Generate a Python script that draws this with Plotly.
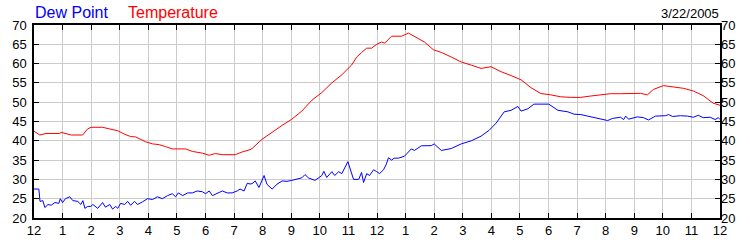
import plotly.graph_objects as go

# Hours since midnight (0..24) and readings
temp_hours = [0, 0.2, 0.42, 0.9, 0.95, 1.1, 1.3, 1.7, 1.77, 1.88, 2.0, 2.4, 2.63, 2.93, 3.17, 3.38,
              3.56, 3.9, 4.15, 4.38, 4.6, 4.84, 5.3, 5.54, 5.89, 6.13, 6.34, 6.6, 7.04, 7.28, 7.56,
              7.63, 7.98, 8.33, 8.68, 9.02, 9.37, 9.72, 10.07, 10.42, 10.77, 11.11, 11.29, 11.46,
              11.64, 11.81, 11.99, 12.16, 12.27, 12.51, 12.86, 13.1, 13.2, 13.45, 13.66, 13.97,
              14.25, 14.6, 14.95, 15.3, 15.64, 15.99, 16.34, 16.69, 17.04, 17.39, 17.73, 18.08,
              18.43, 18.78, 19.13, 19.48, 19.83, 20.17, 20.52, 20.87, 21.22, 21.46, 21.67, 22.02,
              22.37, 22.72, 23.07, 23.41, 23.76, 24]
temp_values = [42.5, 41.5, 41.9, 41.9, 42.2, 41.9, 41.5, 41.5, 42.1, 43.1, 43.5, 43.5, 43.1, 42.6,
               41.7, 41.1, 41.0, 39.75, 39.2, 39.0, 38.5, 37.9, 37.9, 37.25, 36.8, 36.25, 36.7,
               36.4, 36.4, 37.1, 37.7, 38.0, 40.4, 42.3, 44.0, 45.6, 47.7, 50.5, 52.5, 55.0, 57.1,
               59.6, 61.7, 62.9, 64.0, 64.0, 65.0, 65.6, 65.3, 67.1, 67.1, 67.9, 67.5, 66.4, 65.6,
               63.6, 62.9, 61.7, 60.4, 59.6, 58.75, 59.2, 57.9, 56.9, 55.8, 53.75, 52.25, 51.9,
               51.4, 51.25, 51.25, 51.6, 51.9, 52.2, 52.2, 52.3, 52.3, 51.9, 53.3, 54.3, 54.0,
               53.6, 52.9, 51.7, 49.75, 49.2]

dew_hours = [0, 0.17, 0.21, 0.31, 0.38, 0.49, 0.6, 0.73, 0.87, 0.92, 1.0, 1.1, 1.25, 1.36, 1.53,
             1.64, 1.71, 1.78, 1.88, 1.99, 2.06, 2.23, 2.4, 2.5, 2.65, 2.75, 2.86, 2.93, 3.03, 3.17,
             3.28, 3.38, 3.52, 3.62, 3.8, 3.97, 4.15, 4.32, 4.49, 4.67, 4.84, 4.95, 5.05, 5.2, 5.37,
             5.54, 5.71, 5.89, 6.0, 6.13, 6.24, 6.41, 6.59, 6.76, 6.93, 7.11, 7.21, 7.35, 7.46,
             7.56, 7.63, 7.74, 7.87, 8.05, 8.15, 8.33, 8.5, 8.68, 8.85, 9.02, 9.2, 9.37, 9.48, 9.6,
             9.83, 10.07, 10.14, 10.24, 10.42, 10.52, 10.66, 10.77, 10.98, 11.05, 11.18, 11.36,
             11.46, 11.53, 11.64, 11.74, 11.88, 11.99, 12.09, 12.23, 12.33, 12.4, 12.51, 12.6,
             12.75, 12.96, 13.2, 13.31, 13.55, 13.9, 14.0, 14.25, 14.6, 14.95, 15.3, 15.64, 15.92,
             16.17, 16.34, 16.45, 16.69, 16.93, 17.04, 17.28, 17.49, 17.84, 18.01, 18.33, 18.68,
             18.89, 19.13, 19.37, 19.72, 20.07, 20.24, 20.52, 20.63, 20.7, 20.8, 21.11, 21.32,
             21.5, 21.74, 22.09, 22.2, 22.34, 22.62, 22.86, 23.07, 23.24, 23.41, 23.66, 23.83,
             23.94, 24]
dew_values = [27.5, 27.5, 24.3, 24.5, 22.7, 23.5, 23.3, 24.0, 23.8, 25.0, 24.0, 25.0, 25.5, 24.5,
              24.3, 23.5, 24.5, 22.5, 23.0, 23.0, 23.5, 22.5, 24.0, 22.8, 23.5, 22.3, 23.0, 22.5,
              23.8, 23.5, 24.3, 23.3, 24.3, 23.5, 24.2, 25.0, 24.8, 25.5, 25.0, 25.8, 26.3, 25.5,
              26.5, 25.8, 26.5, 26.5, 27.0, 26.8, 26.3, 27.0, 25.8, 26.3, 27.0, 26.5, 26.5, 27.0,
              27.5, 27.0, 29.0, 28.8, 28.9, 29.6, 27.9, 31.0, 28.75, 27.5, 28.75, 29.6, 29.5, 29.75,
              30.0, 30.4, 31.25, 30.4, 29.75, 31.0, 32.1, 30.5, 32.0, 31.0, 32.0, 31.5, 34.6, 33.0,
              30.0, 30.0, 31.8, 29.2, 31.5, 31.0, 32.5, 32.0, 31.5, 32.5, 34.0, 35.6, 35.0, 35.5,
              35.5, 36.0, 37.9, 37.5, 38.7, 38.75, 39.2, 37.5, 38.0, 39.2, 40.0, 41.2, 42.7, 44.6,
              46.3, 47.5, 47.9, 48.9, 47.7, 48.3, 49.5, 49.6, 49.5, 47.9, 47.5, 46.9, 46.8, 46.4,
              45.8, 45.25, 45.8, 46.1, 45.5, 46.4, 45.6, 46.2, 46.0, 45.4, 46.4, 46.5, 46.8, 46.3,
              46.5, 46.4, 46.1, 46.6, 46.0, 46.1, 45.5, 46.0, 45.5]

x_tick_vals = list(range(0, 25))
x_tick_text = ["12", "1", "2", "3", "4", "5", "6", "7", "8", "9", "10", "11",
               "12", "1", "2", "3", "4", "5", "6", "7", "8", "9", "10", "11", "12"]
y_tick_vals = [20, 25, 30, 35, 40, 45, 50, 55, 60, 65, 70]
date_label = "3/22/2005"

FONT = "Arial, Liberation Sans, sans-serif"

fig = go.Figure()
fig.add_trace(go.Scatter(x=temp_hours, y=temp_values, mode="lines",
                         line=dict(color="#ff0000", width=1), name="Temperature"))
fig.add_trace(go.Scatter(x=dew_hours, y=dew_values, mode="lines",
                         line=dict(color="#0000ff", width=1), name="Dew Point"))
# invisible trace for right axis
fig.add_trace(go.Scatter(x=[0], y=[20], yaxis="y2", mode="markers",
                         marker=dict(opacity=0), showlegend=False, hoverinfo="skip"))

fig.update_layout(
    width=750, height=250,
    margin=dict(l=30, r=30, t=25, b=25),
    paper_bgcolor="white", plot_bgcolor="white",
    showlegend=False,
    font=dict(family=FONT, size=13, color="#000000"),
    xaxis=dict(range=[0, 24], tickvals=x_tick_vals, ticktext=x_tick_text,
               showgrid=True, gridcolor="#cccccc", gridwidth=1,
               ticks="inside", ticklen=5, tickcolor="black",
               showline=True, linecolor="black", linewidth=1.5, mirror="ticks",
               zeroline=False, tickfont=dict(size=13), fixedrange=True),
    yaxis=dict(range=[20, 70], tickvals=y_tick_vals,
               showgrid=True, gridcolor="#cccccc", gridwidth=1,
               ticks="inside", ticklen=5, tickcolor="black",
               showline=True, linecolor="black", linewidth=1.5, mirror=True,
               zeroline=False, tickfont=dict(size=13), ticklabelstandoff=3),
    yaxis2=dict(range=[20, 70], tickvals=y_tick_vals, overlaying="y", side="right",
                showgrid=False, ticks="inside", ticklen=5, tickcolor="black",
                showline=False, zeroline=False, tickfont=dict(size=13)),
    annotations=[
        dict(text="Dew Point", x=0.0, y=1, xref="paper", yref="paper",
             xanchor="left", yanchor="bottom", yshift=2, xshift=-1, showarrow=False,
             font=dict(size=16, color="#0000ff", family=FONT)),
        dict(text="Temperature", x=0.134, y=1, xref="paper", yref="paper",
             xanchor="left", yanchor="bottom", yshift=2, showarrow=False,
             font=dict(size=16, color="#ff0000", family=FONT)),
        dict(text=date_label, x=1, y=1, xref="paper", yref="paper",
             xanchor="right", yanchor="bottom", yshift=2, xshift=1, showarrow=False,
             font=dict(size=13, color="#000000", family=FONT)),
    ],
)

fig.write_html("out.html")
